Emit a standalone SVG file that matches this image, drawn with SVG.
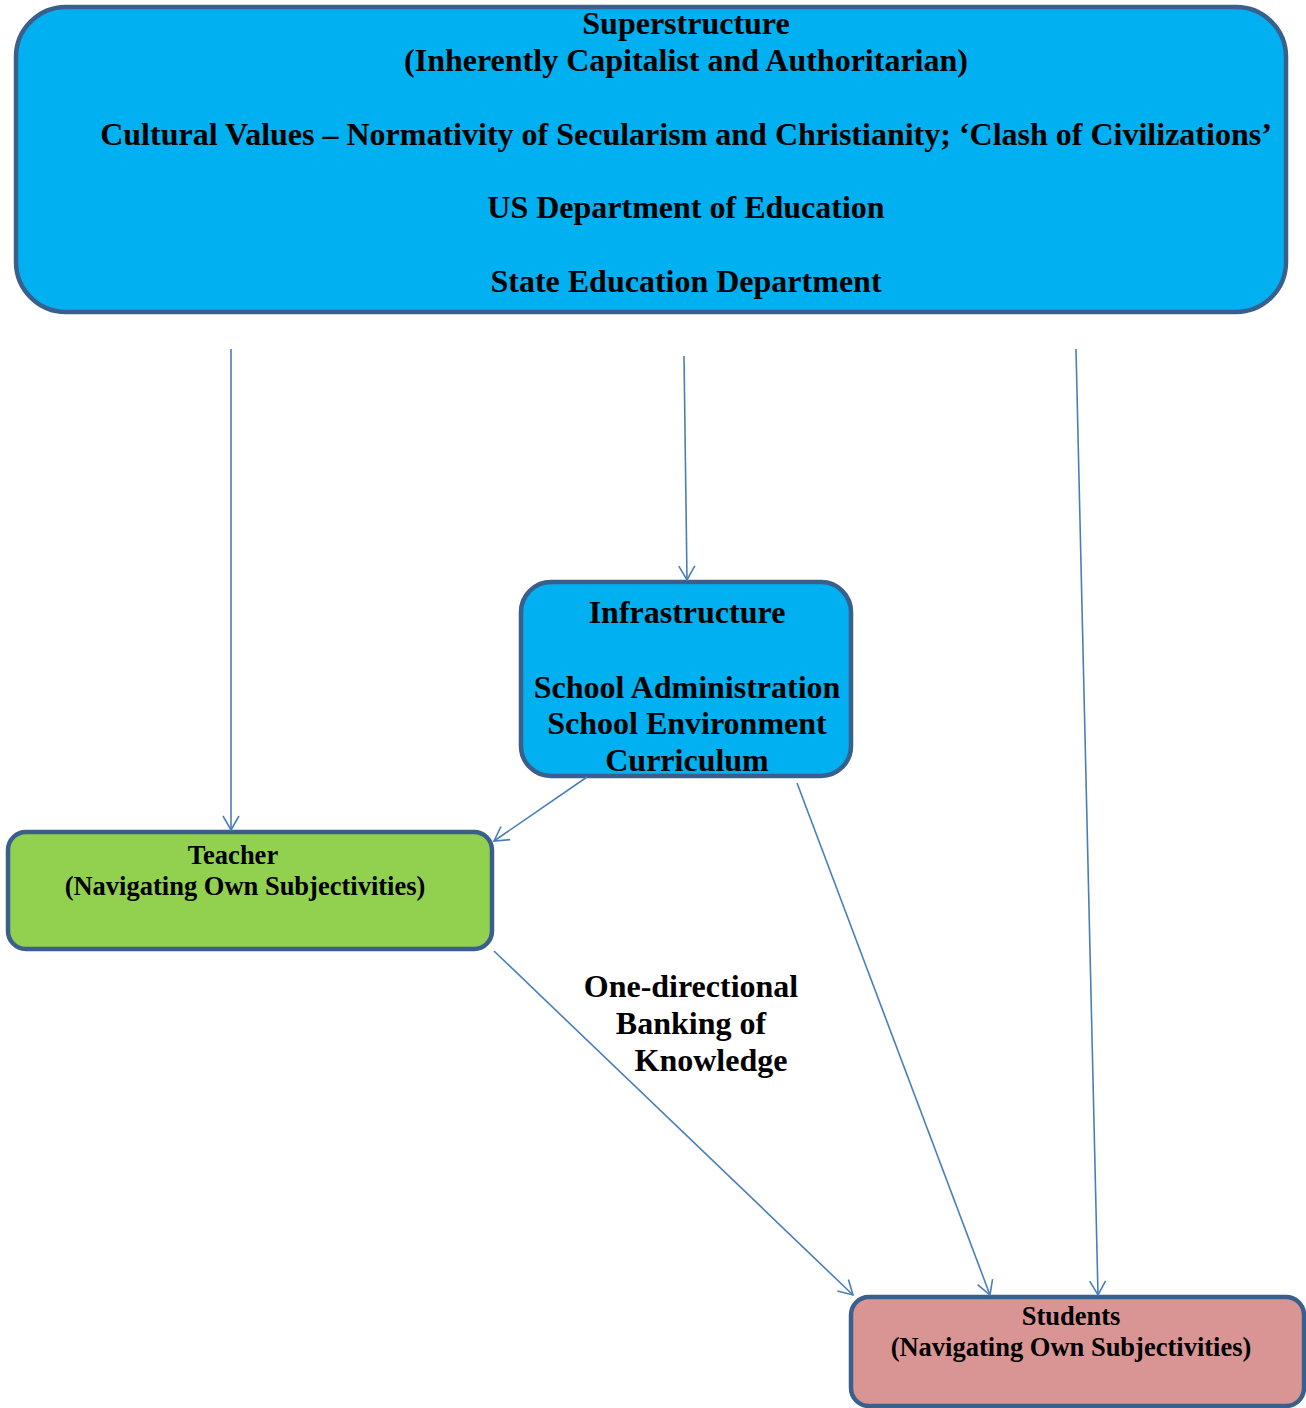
<svg xmlns="http://www.w3.org/2000/svg" width="1306" height="1408" viewBox="0 0 1306 1408">
<defs>
<style>
.box{stroke:#3A5F8C;stroke-width:4.5}
.t{font-family:"Liberation Serif","Times New Roman",serif;font-weight:bold;fill:#000;text-anchor:middle}
.big{font-size:32px}
.small{font-size:26.5px}
.conn{stroke:#4A7EBB;stroke-width:1.6;fill:none;marker-end:url(#arr)}
</style>
<marker id="arr" viewBox="-16 -10 18 20" refX="0" refY="0" markerWidth="18" markerHeight="20" markerUnits="userSpaceOnUse" orient="auto">
<path d="M-14,-8 L0,0 L-14,8" fill="none" stroke="#4A7EBB" stroke-width="1.6"/>
</marker>
</defs>
<rect width="1306" height="1408" fill="#fff"/>
<g id="superstructure">
<rect class="box" x="16" y="7" width="1270" height="305" rx="50" fill="#00B0F0"/>
<text class="t big" x="686" y="34">Superstructure</text>
<text class="t big" x="686" y="71">(Inherently Capitalist and Authoritarian)</text>
<text class="t big" x="686" y="145">Cultural Values – Normativity of Secularism and Christianity; ‘Clash of Civilizations’</text>
<text class="t big" x="686" y="218">US Department of Education</text>
<text class="t big" x="686" y="292">State Education Department</text>
</g>
<g id="infrastructure">
<rect class="box" x="521" y="582" width="330" height="194" rx="30" fill="#00B0F0"/>
<text class="t big" x="687" y="623">Infrastructure</text>
<text class="t big" x="687" y="698">School Administration</text>
<text class="t big" x="687" y="734">School Environment</text>
<text class="t big" x="687" y="771">Curriculum</text>
</g>
<g id="teacher">
<rect class="box" x="8" y="832" width="484" height="117" rx="18" fill="#92D050"/>
<text class="t small" x="233" y="864">Teacher</text>
<text class="t small" x="245" y="895">(Navigating Own Subjectivities)</text>
</g>
<g id="students">
<rect class="box" x="851" y="1297" width="453" height="109" rx="18" fill="#D99594"/>
<text class="t small" x="1071" y="1325">Students</text>
<text class="t small" x="1071" y="1356">(Navigating Own Subjectivities)</text>
</g>
<g id="connectors">
<line class="conn" x1="231" y1="349" x2="231" y2="830"/>
<line class="conn" x1="684" y1="356" x2="687" y2="580"/>
<line class="conn" x1="1076" y1="349" x2="1098" y2="1295"/>
<line class="conn" x1="587" y1="777" x2="494" y2="841"/>
<line class="conn" x1="797" y1="783" x2="990" y2="1295"/>
<line class="conn" x1="494" y1="951" x2="853" y2="1295"/>
</g>
<g id="label">
<text class="t big" x="691" y="997">One-directional</text>
<text class="t big" x="691" y="1034">Banking of</text>
<text class="t big" x="711" y="1071">Knowledge</text>
</g>
</svg>
